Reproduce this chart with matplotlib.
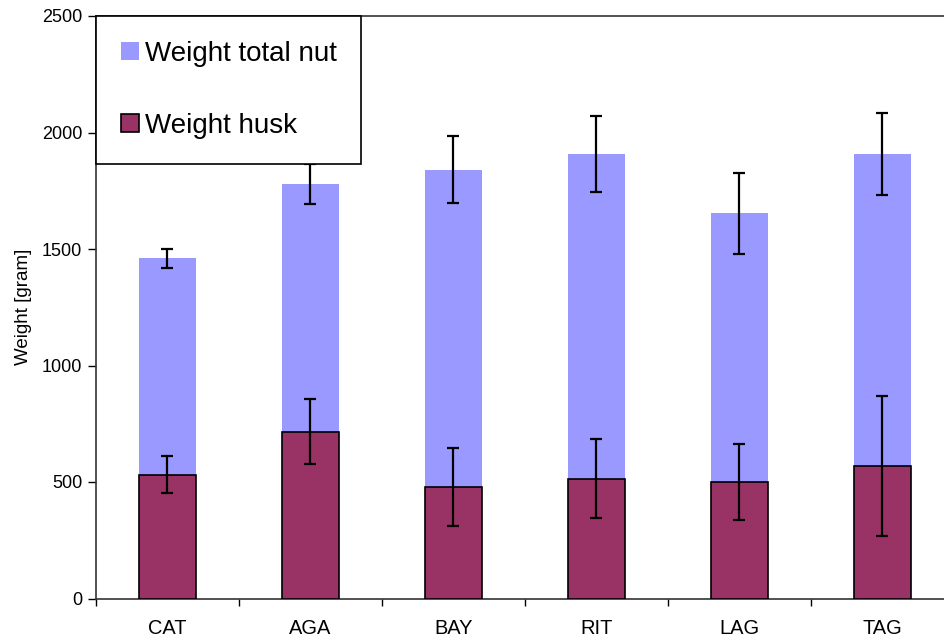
#!/usr/bin/env python3

import numpy as np
import matplotlib
matplotlib.use("Agg")
import matplotlib.pyplot as plt

# -----------------------------
# Values (grams)
# -----------------------------
varieties = ["CAT", "AGA", "BAY", "RIT", "LAG", "TAG"]
total_nut = [1460, 1778, 1841, 1906, 1653, 1908]
total_nut_err = [40, 86, 144, 163, 174, 176]
husk = [531, 716, 479, 515, 500, 568]
husk_err = [79, 139, 169, 168, 162, 300]

plt.rcParams["font.family"] = ["Liberation Sans", "DejaVu Sans"]

fig = plt.figure(figsize=(9.45, 6.42), dpi=100)
# plot area runs off the right edge of the picture, like the original
ax = fig.add_axes([96 / 945, 1 - 598.5 / 642, 858 / 945, 582.5 / 642])

x = np.arange(len(varieties))
width = 0.40
err_kw = dict(ecolor="black", elinewidth=1.6, capsize=4.6, capthick=1.6, zorder=4)

ax.bar(x, total_nut, width, color="#9999FF", edgecolor="none",
       label="Weight total nut", zorder=2)
ax.bar(x, husk, width, color="#993366", edgecolor="black", linewidth=1.2,
       label="Weight husk", zorder=3)
ax.errorbar(x, total_nut, yerr=total_nut_err, fmt="none", **err_kw)
ax.errorbar(x, husk, yerr=husk_err, fmt="none", **err_kw)

ax.set_xlim(-0.5, len(varieties) - 0.5)
ax.set_ylim(0, 2500)
ax.set_yticks(range(0, 2501, 500))
ax.set_xticks(x)
ax.set_xticklabels(varieties)
ax.set_xticks(np.arange(-0.5, len(varieties)), minor=True)
ax.tick_params(axis="x", which="major", length=0, pad=15, labelsize=14.4)
ax.tick_params(axis="x", which="minor", length=5, direction="out", width=1)
ax.tick_params(axis="y", length=6, direction="out", width=1, labelsize=13, pad=4)

for side in ["left", "bottom", "top"]:
    ax.spines[side].set_color("#333333")
    ax.spines[side].set_linewidth(1.2)
ax.spines["right"].set_visible(False)

ax.set_ylabel("Weight [gram]", fontsize=13.5, labelpad=7)

leg = ax.legend(loc="upper left", bbox_to_anchor=(0, 1), borderaxespad=0,
                fontsize=20, frameon=True, fancybox=False, edgecolor="black",
                framealpha=1, labelspacing=1.65, borderpad=0.9,
                handlelength=0.63, handleheight=0.63, handletextpad=0.22)
leg.get_frame().set_linewidth(1.2)
leg.set_zorder(10)

fig.savefig("out.png", dpi=100)
